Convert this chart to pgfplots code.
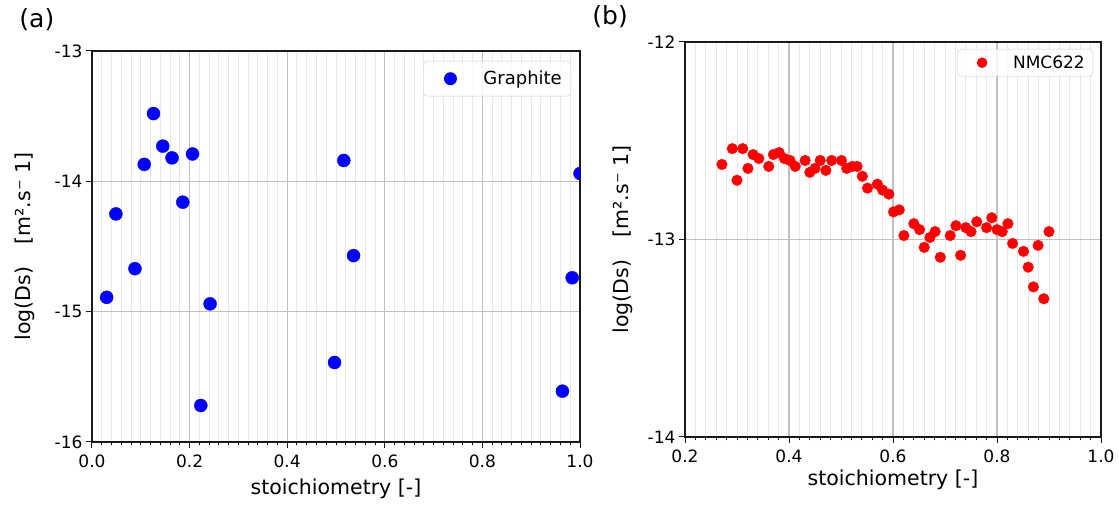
\documentclass[border=0pt]{standalone}
\usepackage{fontspec}
\setmainfont{DejaVu Sans}
\usepackage{pgfplots}
\pgfplotsset{compat=1.18}
\definecolor{majgrid}{HTML}{C0C0C0}
\definecolor{mingrid}{HTML}{E8E8E8}
\pgfplotsset{mystyle/.style={
  scale only axis,
  clip mode=individual,
  axis line style={black!90, line width=1.1pt},
  tick style={black!90, line width=1pt},
  tick align=outside,
  major tick length=6pt,
  minor tick length=3.5pt,
  xtick pos=bottom, ytick pos=left,
  xmajorgrids, ymajorgrids, xminorgrids,
  major grid style={majgrid, line width=1.3pt},
  minor grid style={mingrid, line width=1pt},
  tick label style={font=\fontsize{17}{20}\selectfont, black},
  xticklabel style={yshift=-3pt},
  label style={font=\fontsize{20.5}{24}\selectfont, black},
  clip marker paths=true,
}}
\begin{document}
\begin{tikzpicture}
\path (0,0) rectangle (1119pt,508pt);
% ---------------- panel (a)
\begin{axis}[mystyle, at={(92pt,66pt)}, anchor=south west, width=488pt, height=391pt,
  xmin=0, xmax=1, ymin=-16, ymax=-13,
  xtick={0,0.2,0.4,0.6,0.8,1}, xticklabels={0.0,0.2,0.4,0.6,0.8,1.0},
  minor xtick={0.02,0.04,0.06,0.08,0.10,0.12,0.14,0.16,0.18,
               0.22,0.24,0.26,0.28,0.30,0.32,0.34,0.36,0.38,
               0.42,0.44,0.46,0.48,0.50,0.52,0.54,0.56,0.58,
               0.62,0.64,0.66,0.68,0.70,0.72,0.74,0.76,0.78,
               0.82,0.84,0.86,0.88,0.90,0.92,0.94,0.96,0.98},
  ytick={-16,-15,-14,-13}, yticklabels={-16,-15,-14,-13},
  xlabel={stoichiometry [-]},
  xlabel style={at={(axis description cs:0.5,0)}, anchor=base, yshift=-53pt},
  ylabel={log(Ds)\hspace{1.1em}[m².s⁻ 1]},
  ylabel style={at={(axis description cs:-0.127,0.5)}, anchor=base},
  legend style={at={(axis description cs:1,1)}, anchor=north east, xshift=-9pt, yshift=-10pt,
    draw=black!20, rounded corners=4pt, fill=white, fill opacity=0.8, text opacity=1,
    inner sep=0pt, font=\fontsize{18}{21}\selectfont, nodes={inner sep=0pt, text=black}},
]
\addplot[only marks, mark=*, mark size=6.5pt, color=blue, mark options={fill=blue, draw=blue},
  legend image code/.code={\path[draw=none,fill=none] (0pt,-17.5pt) rectangle (60pt,17.5pt); \fill[blue, fill opacity=1, draw=none] (27pt,0pt) circle (6.5pt);}]
coordinates {
(0.030,-14.89) (0.049,-14.25) (0.088,-14.67) (0.107,-13.87) (0.126,-13.48)
(0.145,-13.73) (0.164,-13.82) (0.186,-14.16) (0.206,-13.79) (0.223,-15.72)
(0.242,-14.94) (0.497,-15.39) (0.516,-13.84) (0.536,-14.57) (0.964,-15.61)
(0.984,-14.74) (1.000,-13.94)
};
\addlegendentry{Graphite\hspace*{9pt}}
\node[font=\fontsize{25}{30}\selectfont] at (axis description cs:-0.113,1.079) {(a)};
\end{axis}
% ---------------- panel (b)
\begin{axis}[mystyle, at={(685pt,71pt)}, anchor=south west, width=416pt, height=395pt,
  xmin=0.2, xmax=1, ymin=-14, ymax=-12,
  xtick={0.2,0.4,0.6,0.8,1}, xticklabels={0.2,0.4,0.6,0.8,1.0},
  minor xtick={0.22,0.24,0.26,0.28,0.30,0.32,0.34,0.36,0.38,
               0.42,0.44,0.46,0.48,0.50,0.52,0.54,0.56,0.58,
               0.62,0.64,0.66,0.68,0.70,0.72,0.74,0.76,0.78,
               0.82,0.84,0.86,0.88,0.90,0.92,0.94,0.96,0.98},
  ytick={-14,-13,-12}, yticklabels={-14,-13,-12},
  xlabel={stoichiometry [-]},
  xlabel style={at={(axis description cs:0.5,0)}, anchor=base, yshift=-49pt},
  ylabel={log(Ds)\hspace{1.1em}[m².s⁻ 1]},
  ylabel style={at={(axis description cs:-0.137,0.5)}, anchor=base},
  legend style={at={(axis description cs:1,1)}, anchor=north east, xshift=-8pt, yshift=-7pt,
    draw=black!20, rounded corners=4pt, fill=white, fill opacity=0.8, text opacity=1,
    inner sep=0pt, font=\fontsize{17}{20}\selectfont, nodes={inner sep=0pt, text=black}},
]
\addplot[only marks, mark=*, mark size=5.3pt, color=red, mark options={fill=red, draw=red},
  legend image code/.code={\path[draw=none,fill=none] (0pt,-13.5pt) rectangle (56pt,13.5pt); \fill[red, fill opacity=1, draw=none] (25pt,0pt) circle (5.3pt);}]
coordinates {
(0.271,-12.62) (0.291,-12.54) (0.300,-12.70) (0.311,-12.54) (0.321,-12.64)
(0.331,-12.57) (0.342,-12.59) (0.361,-12.63) (0.370,-12.57) (0.381,-12.56)
(0.391,-12.59) (0.402,-12.60) (0.412,-12.63) (0.431,-12.60) (0.440,-12.66)
(0.450,-12.64) (0.460,-12.60) (0.471,-12.65) (0.482,-12.60) (0.501,-12.60)
(0.511,-12.64) (0.522,-12.63) (0.531,-12.63) (0.541,-12.68) (0.551,-12.74)
(0.570,-12.72) (0.580,-12.75) (0.592,-12.77) (0.601,-12.86) (0.612,-12.85)
(0.621,-12.98) (0.640,-12.92) (0.651,-12.95) (0.660,-13.04) (0.671,-12.99)
(0.681,-12.96) (0.691,-13.09) (0.710,-12.98) (0.721,-12.93) (0.730,-13.08)
(0.740,-12.94) (0.750,-12.96) (0.761,-12.91) (0.780,-12.94) (0.790,-12.89)
(0.800,-12.95) (0.810,-12.96) (0.821,-12.92) (0.830,-13.02) (0.851,-13.06)
(0.860,-13.14) (0.870,-13.24) (0.879,-13.03) (0.890,-13.30) (0.900,-12.96)
};
\addlegendentry{NMC622\hspace*{8pt}}
\node[font=\fontsize{25}{30}\selectfont] at (axis description cs:-0.180,1.063) {(b)};
\end{axis}
\end{tikzpicture}
\end{document}
